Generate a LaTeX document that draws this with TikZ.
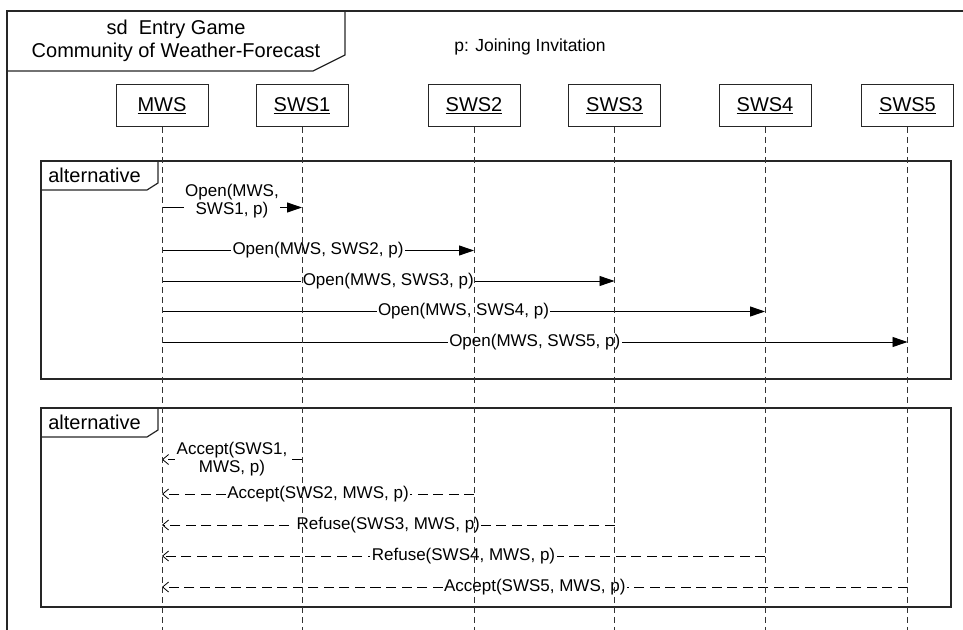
\documentclass[tikz,border=0pt]{standalone}
\usepackage{fontspec}
\setmainfont{Liberation Sans}
\usetikzlibrary{arrows.meta}
\begin{document}
\begin{tikzpicture}[x=1bp,y=-1bp,
  lbl/.style={font=\fontsize{17bp}{18bp}\selectfont, fill=white, inner xsep=1.5bp, inner ysep=0.5bp},
  big/.style={font=\fontsize{20bp}{23bp}\selectfont},
  obj/.style={draw=black!85, line width=0.9bp, minimum width=92bp, minimum height=42bp, font=\fontsize{20bp}{23bp}\selectfont, inner sep=0pt},
  life/.style={line width=0.7bp, dash pattern=on 6bp off 4bp, draw=black!80},
  frm/.style={line width=1.2bp, draw=black!85},
  call/.style={line width=0.9bp, -{Triangle[length=15bp,width=10bp]}},
  reply/.style={line width=0.8bp, dash pattern=on 10bp off 5.5bp, -{Straight Barb[length=6bp,width=10bp]}},
]
\useasboundingbox (0,0) rectangle (963,630);
% outer frame
\draw[frm] (7,640) -- (7,11) -- (970,11);
\draw[frm] (7,11) -- (345,11) -- (345,55) -- (313,71) -- (7,71);
\node[big, align=center] (title) at (176,41) {sd\ \ Entry Game\\Community of Weather-Forecast};
\node[font=\fontsize{17.5bp}{20bp}\selectfont] (param) at (530,47) {p: Joining Invitation};
% lifeline heads
\node[obj] (MWS)  at (162,105.5)   {\underline{MWS}};
\node[obj] (SWS1) at (302,105.5)   {\underline{SWS1}};
\node[obj] (SWS2) at (474,105.5)   {\underline{SWS2}};
\node[obj] (SWS3) at (614.5,105.5) {\underline{SWS3}};
\node[obj] (SWS4) at (765,105.5)   {\underline{SWS4}};
\node[obj] (SWS5) at (907.5,105.5) {\underline{SWS5}};
\coordinate (MWSe)  at (162,630);
\coordinate (SWS1e) at (302,630);
\coordinate (SWS2e) at (474,630);
\coordinate (SWS3e) at (614.5,630);
\coordinate (SWS4e) at (765,630);
\coordinate (SWS5e) at (907.5,630);
% fragment 1
\draw[frm] (41,161) rectangle (951,379);
\draw[frm] (41,190) -- (147,190) -- (158,183) -- (158,161);
\node[big] (alt1) at (94.5,175) {alternative};
\coordinate (a0) at (162,207.5);   \coordinate (b1) at (302,207.5);
\coordinate (a2) at (162,250.5);   \coordinate (b2) at (474,250.5);
\coordinate (a3) at (162,281);     \coordinate (b3) at (614.5,281);
\coordinate (a4) at (162,311.5);   \coordinate (b4) at (765,311.5);
\coordinate (a5) at (162,342);     \coordinate (b5) at (907.5,342);
\draw[call] (a0) -- node[lbl, align=center, yshift=6.5bp] {Open(MWS,\\SWS1, p)} (b1);
\draw[call] (a2) -- node[lbl] {Open(MWS, SWS2, p)} (b2);
\draw[call] (a3) -- node[lbl] {Open(MWS, SWS3, p)} (b3);
\draw[call] (a4) -- node[lbl] {Open(MWS, SWS4, p)} (b4);
\draw[call] (a5) -- node[lbl] {Open(MWS, SWS5, p)} (b5);
% fragment 2
\draw[frm] (41,408) rectangle (951,607);
\draw[frm] (41,437) -- (147,437) -- (158,430) -- (158,408);
\node[big] (alt2) at (94.5,422) {alternative};
\coordinate (c1) at (162,459.5);  \coordinate (d1) at (302,459.5);
\coordinate (c2) at (162,494);    \coordinate (d2) at (474,494);
\coordinate (c3) at (162,525);    \coordinate (d3) at (614.5,525);
\coordinate (c4) at (162,556);    \coordinate (d4) at (765,556);
\coordinate (c5) at (162,587);    \coordinate (d5) at (907.5,587);
\draw[reply] (d1) -- node[lbl, align=center, yshift=0bp] {Accept(SWS1,\\MWS, p)} (c1);
\draw[reply] (d2) -- node[lbl] {Accept(SWS2, MWS, p)} (c2);
\draw[reply] (d3) -- node[lbl] {Refuse(SWS3, MWS, p)} (c3);
\draw[reply] (d4) -- node[lbl] {Refuse(SWS4, MWS, p)} (c4);
\draw[reply] (d5) -- node[lbl] {Accept(SWS5, MWS, p)} (c5);
% lifelines
\draw[life] (MWS.south) -- (MWSe);
\draw[life] (SWS1.south) -- (SWS1e);
\draw[life] (SWS2.south) -- (SWS2e);
\draw[life] (SWS3.south) -- (SWS3e);
\draw[life] (SWS4.south) -- (SWS4e);
\draw[life] (SWS5.south) -- (SWS5e);
\end{tikzpicture}
\end{document}
